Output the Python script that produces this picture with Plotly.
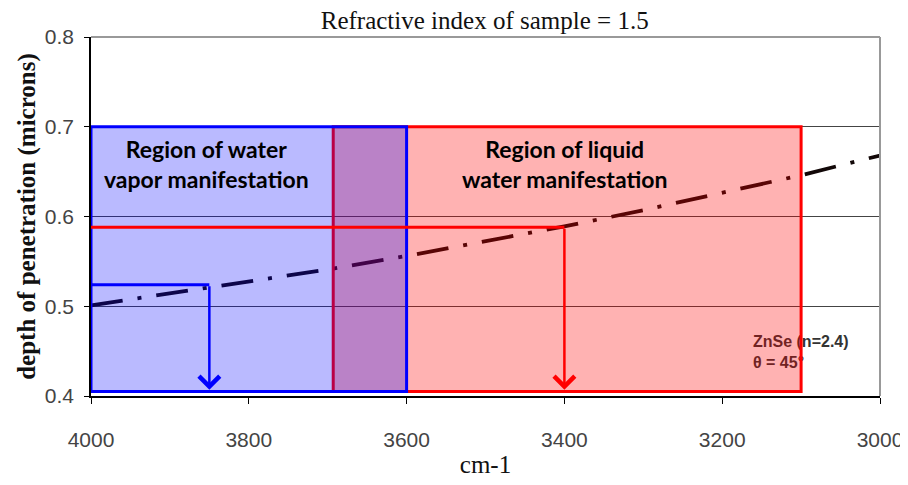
import plotly.graph_objects as go

# Data
wavenumber = [4000, 3900, 3800, 3700, 3600, 3500, 3400, 3300, 3200, 3100, 3000]
depth = [0.501, 0.514, 0.527, 0.541, 0.556, 0.572, 0.589, 0.607, 0.626, 0.646, 0.668]

vapor_region = [4000, 3600]      # cm-1
liquid_region = [3693, 3100]     # cm-1
region_depth = [0.405, 0.70]

vapor_marker = (3850, 0.524)
liquid_marker = (3400, 0.588)

crystal_lines = ["ZnSe (n=2.4)", "θ = 45°"]
crystal_y = [0.459, 0.436]

title_text = "Refractive index of sample = 1.5"
xlabel = "cm-1"
ylabel = "depth of penetration (microns)"

fig = go.Figure()

fig.add_trace(go.Scatter(
    x=wavenumber, y=depth, mode="lines",
    line=dict(color="#120808", width=3.8, dash="32px,15px,4px,15px"),
    hoverinfo="skip", showlegend=False))

fig.add_trace(go.Scatter(
    x=[3161] * len(crystal_lines), y=crystal_y, mode="text",
    text=crystal_lines, textposition="middle right",
    textfont=dict(family="Liberation Sans", size=16, color="#333333", weight="bold"),
    hoverinfo="skip", showlegend=False))

shapes = []
# liquid region (red) first, vapour region (blue) over it
shapes.append(dict(type="rect", xref="x", yref="y",
                   x0=liquid_region[0], x1=liquid_region[1],
                   y0=region_depth[0], y1=region_depth[1],
                   fillcolor="rgba(255,0,0,0.3)", line=dict(color="#ff0000", width=3),
                   layer="above"))
shapes.append(dict(type="rect", xref="x", yref="y",
                   x0=vapor_region[0], x1=vapor_region[1],
                   y0=region_depth[0], y1=region_depth[1],
                   fillcolor="rgba(0,0,255,0.27)", line=dict(color="#0000ff", width=3),
                   layer="above"))
# horizontal marker lines
shapes.append(dict(type="line", xref="x", yref="y",
                   x0=wavenumber[0], x1=vapor_marker[0], y0=vapor_marker[1], y1=vapor_marker[1],
                   line=dict(color="#0000ff", width=3), layer="above"))
shapes.append(dict(type="line", xref="x", yref="y",
                   x0=wavenumber[0], x1=liquid_marker[0], y0=liquid_marker[1], y1=liquid_marker[1],
                   line=dict(color="#ff0000", width=3), layer="above"))
# frame top and right (gray)
shapes.append(dict(type="line", xref="paper", yref="paper", x0=0, x1=1, y0=1, y1=1,
                   line=dict(color="#999999", width=2), layer="above"))
shapes.append(dict(type="line", xref="paper", yref="paper", x0=1, x1=1, y0=0, y1=1,
                   line=dict(color="#999999", width=2), layer="above"))

annotations = [
    dict(x=vapor_marker[0], y=region_depth[0] + 0.002, ax=vapor_marker[0], ay=vapor_marker[1],
         xref="x", yref="y", axref="x", ayref="y", showarrow=True, text="",
         arrowhead=4, arrowsize=1.6, arrowwidth=2.5, arrowcolor="#0000ff"),
    dict(x=liquid_marker[0], y=region_depth[0] + 0.002, ax=liquid_marker[0], ay=liquid_marker[1],
         xref="x", yref="y", axref="x", ayref="y", showarrow=True, text="",
         arrowhead=4, arrowsize=1.6, arrowwidth=2.5, arrowcolor="#ff0000"),
    dict(x=3853, y=0.659, xref="x", yref="y", showarrow=False,
         text="Region of water<br>vapor manifestation",
         font=dict(family="Lato", size=23, color="#000000", weight="bold")),
    dict(x=3400, y=0.659, xref="x", yref="y", showarrow=False,
         text="Region of liquid<br>water manifestation",
         font=dict(family="Lato", size=23, color="#000000", weight="bold")),
]

fig.update_layout(
    width=908, height=485,
    margin=dict(l=83, r=36, t=29, b=97, autoexpand=False),
    paper_bgcolor="white", plot_bgcolor="white",
    title=dict(text=title_text, x=0.525, xanchor="center", y=0.975, yanchor="middle",
               font=dict(family="Liberation Serif", size=25, color="#111111")),
    shapes=shapes, annotations=annotations,
    showlegend=False,
)

fig.update_xaxes(
    range=[4000, 3000], tickmode="array", tickvals=[4000, 3800, 3600, 3400, 3200, 3000],
    ticks="outside", ticklen=6, tickcolor="#000000", tickwidth=1,
    showline=True, linecolor="#000000", linewidth=1.5,
    showgrid=False, zeroline=False, ticklabelstandoff=18,
    tickfont=dict(family="Liberation Sans Narrow, Liberation Sans", size=21, color="#444444"),
    title=dict(text=xlabel, font=dict(family="Liberation Serif", size=25, color="#111111"),
               standoff=6),
)
fig.update_yaxes(
    range=[0.4, 0.8], tickmode="array", tickvals=[0.4, 0.5, 0.6, 0.7, 0.8],
    ticktext=["0.4", "0.5", "0.6", "0.7", "0.8"],
    ticks="outside", ticklen=5, tickcolor="#000000", tickwidth=1,
    showline=True, linecolor="#000000", linewidth=1.5,
    showgrid=True, gridcolor="#444444", gridwidth=1, zeroline=False, ticklabelstandoff=6,
    tickfont=dict(family="Liberation Sans Narrow, Liberation Sans", size=21, color="#444444"),
    title=dict(text=ylabel, font=dict(family="Liberation Serif", size=25, color="#111111", weight="bold"),
               standoff=2),
)

fig.write_html("out.html")
